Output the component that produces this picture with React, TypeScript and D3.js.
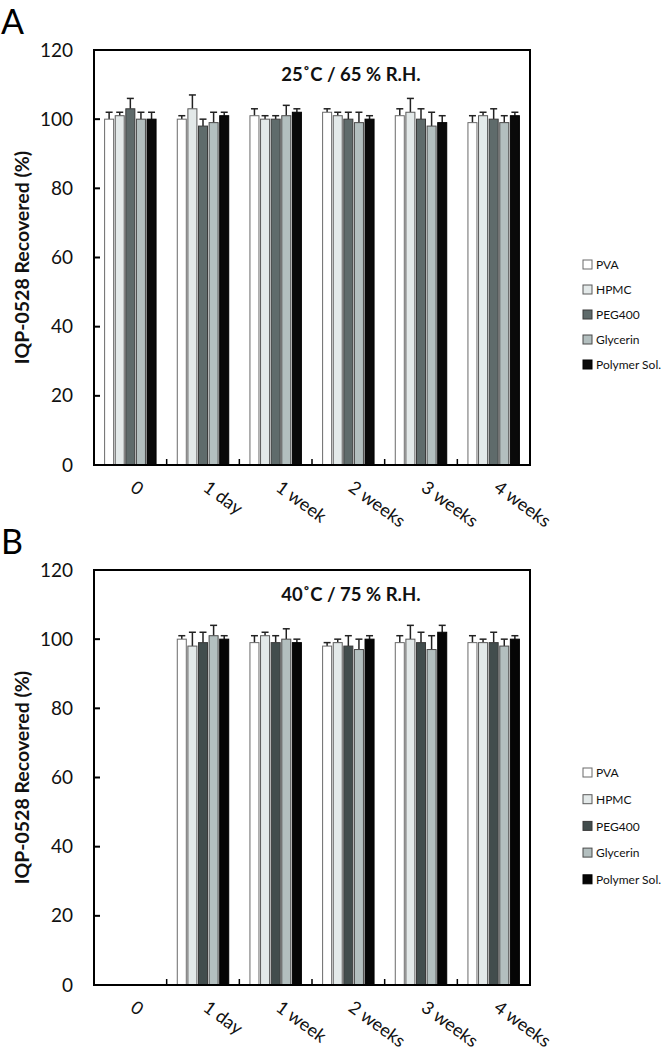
import React from "react";
import * as d3 from "d3";

const categories = ["0", "1 day", "1 week", "2 weeks", "3 weeks", "4 weeks"];
const seriesNames = ["PVA", "HPMC", "PEG400", "Glycerin", "Polymer Sol."];
const yTicks = [0, 20, 40, 60, 80, 100, 120];

// Panel A: 25˚C / 65 % R.H.
const aPVA = [100, 100, 101, 102, 101, 99];
const aPVAErr = [2, 1, 2, 1, 2, 2];
const aHPMC = [101, 103, 100, 101, 102, 101];
const aHPMCErr = [1, 4, 1, 1, 4, 1];
const aPEG = [103, 98, 100, 100, 100, 100];
const aPEGErr = [3, 2, 1, 2, 3, 3];
const aGly = [100, 99, 101, 99, 98, 99];
const aGlyErr = [2, 3, 3, 3, 4, 2];
const aPoly = [100, 101, 102, 100, 99, 101];
const aPolyErr = [2, 1, 1, 1, 2, 1];

// Panel B: 40˚C / 75 % R.H.
const bPVA = [null, 100, 99, 98, 99, 99];
const bPVAErr = [null, 1, 2, 1, 2, 2];
const bHPMC = [null, 98, 101, 99, 100, 99];
const bHPMCErr = [null, 4, 1, 1, 4, 1];
const bPEG = [null, 99, 99, 98, 99, 99];
const bPEGErr = [null, 3, 2, 3, 3, 3];
const bGly = [null, 101, 100, 97, 97, 98];
const bGlyErr = [null, 3, 3, 3, 4, 2];
const bPoly = [null, 100, 99, 100, 102, 100];
const bPolyErr = [null, 1, 1, 1, 2, 1];

const FONT = "Lato, 'Open Sans', sans-serif";

type Num = number | null;

function Panel(props: {
  dy: number;
  letter: string;
  title: string;
  values: Num[][];
  errors: Num[][];
  colors: string[];
  legendY0: number;
  legendStep: number;
}) {
  const { dy, letter, title, values, errors, colors, legendY0, legendStep } = props;
  const left = 94, right = 530, top = 50 + dy, bottom = 465 + dy;
  const x0 = d3.scaleBand<string>().domain(categories).range([left, right]).paddingInner(0).paddingOuter(0);
  const x1 = d3.scaleBand<string>().domain(seriesNames).range([0, x0.bandwidth()]).paddingInner(0.15).paddingOuter(1.0);
  const y = d3.scaleLinear().domain([0, 120]).range([bottom, top]);
  const strokes = ["#6a6a6a", "#5a5a5a", "#3a3a3a", "#4a4a4a", "#000"];
  return (
    <g>
      <text x={1} y={dy + 34} fontFamily={FONT} fontSize={34} fill="#000">{letter}</text>
      {/* bars */}
      {seriesNames.map((s, si) =>
        categories.map((c, ci) => {
          const v = values[si][ci];
          if (v == null) return null;
          const e = errors[si][ci] ?? 0;
          const bx = (x0(c) ?? 0) + (x1(s) ?? 0);
          const bw = x1.bandwidth();
          const cx = bx + bw / 2;
          return (
            <g key={s + c}>
              <line x1={cx} x2={cx} y1={y(v)} y2={y(v + e)} stroke="#222" strokeWidth={1.5} />
              <line x1={cx - 3.5} x2={cx + 3.5} y1={y(v + e)} y2={y(v + e)} stroke="#222" strokeWidth={1.5} />
              <rect x={bx} y={y(v)} width={bw} height={y(0) - y(v)} fill={colors[si]} stroke={strokes[si]} strokeWidth={1} />
            </g>
          );
        })
      )}
      {/* frame */}
      <rect x={left} y={top} width={right - left} height={bottom - top} fill="none" stroke="#000" strokeWidth={2} />
      {/* y ticks inward */}
      {yTicks.map((t) => (
        <g key={t}>
          {t > 0 && t < 120 && <line x1={left} x2={left + 6} y1={y(t)} y2={y(t)} stroke="#000" strokeWidth={2} />}
          <text x={73} y={y(t)} dy="0.35em" textAnchor="end" fontFamily={FONT} fontSize={19} fill="#111">{t}</text>
        </g>
      ))}
      {/* x ticks inward at group boundaries */}
      {categories.slice(1).map((c) => (
        <line key={c} x1={x0(c)} x2={x0(c)} y1={bottom} y2={bottom - 6} stroke="#000" strokeWidth={1.5} />
      ))}
      {/* x labels */}
      {categories.map((c) => {
        const cx = (x0(c) ?? 0) + x0.bandwidth() / 2 - 1;
        const ty = bottom + 25;
        return (
          <text key={c} x={cx} y={ty} transform={`rotate(36 ${cx} ${ty})`} fontFamily={FONT} fontSize={18} fill="#111">{c}</text>
        );
      })}
      {/* y title */}
      <text transform={`translate(29 ${(top + bottom) / 2}) rotate(-90)`} textAnchor="middle" fontFamily={FONT} fontWeight="bold" fontSize={19.5} fill="#111">IQP-0528 Recovered (%)</text>
      {/* panel title */}
      <text x={351} y={top + 31} textAnchor="middle" fontFamily={FONT} fontWeight="bold" fontSize={18.5} fill="#111">{title}</text>
      {/* legend */}
      {seriesNames.map((s, si) => (
        <g key={s}>
          <rect x={583} y={legendY0 + si * legendStep - 5} width={9} height={9} fill={colors[si]} stroke={strokes[si]} strokeWidth={1} />
          <text x={596} y={legendY0 + si * legendStep} dy="0.35em" fontFamily={FONT} fontSize={12} fill="#111">
            {s}
          </text>
        </g>
      ))}
    </g>
  );
}

export default function App() {
  return (
    <svg width={663} height={1050} style={{ position: "absolute", left: 0, top: 0, background: "#fff" }}>
      <rect width={663} height={1050} fill="#fff" />
      <Panel
        dy={0}
        letter="A"
        title="25˚C / 65 % R.H."
        values={[aPVA, aHPMC, aPEG, aGly, aPoly]}
        errors={[aPVAErr, aHPMCErr, aPEGErr, aGlyErr, aPolyErr]}
        colors={["#ffffff", "#e3e9e9", "#5f6b6b", "#b3bfbf", "#0a0a0a"]}
        legendY0={265}
        legendStep={25}
      />
      <Panel
        dy={520}
        letter="B"
        title="40˚C / 75 % R.H."
        values={[bPVA, bHPMC, bPEG, bGly, bPoly]}
        errors={[bPVAErr, bHPMCErr, bPEGErr, bGlyErr, bPolyErr]}
        colors={["#ffffff", "#e3e9e9", "#424d4d", "#b3bfbf", "#050505"]}
        legendY0={773}
        legendStep={26.7}
      />
    </svg>
  );
}
